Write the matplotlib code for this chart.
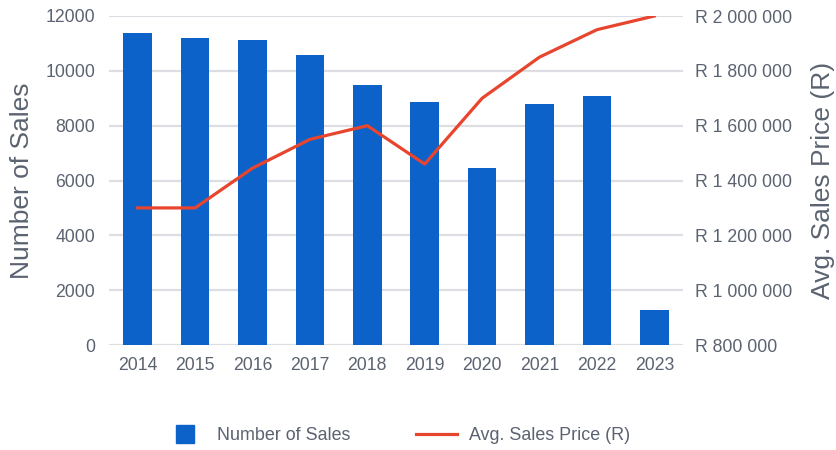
import matplotlib
matplotlib.use("Agg")
import matplotlib.pyplot as plt
from matplotlib.lines import Line2D
from matplotlib.ticker import FuncFormatter

years = ["2014", "2015", "2016", "2017", "2018", "2019", "2020", "2021", "2022", "2023"]
num_sales = [11380, 11200, 11120, 10580, 9480, 8860, 6460, 8790, 9080, 1280]
avg_price = [1300000, 1300000, 1445000, 1550000, 1600000, 1460000, 1700000, 1850000, 1950000, 2000000]

bar_color = "#0d62c9"
line_color = "#e8452f"
text_color = "#5b6371"
grid_color = "#dcdee3"

plt.rcParams["font.family"] = ["Liberation Sans", "DejaVu Sans"]

fig = plt.figure(figsize=(8.36, 4.5), dpi=100)
ax = fig.add_axes([109 / 836, 105 / 450, 574 / 836, 329 / 450])
ax2 = ax.twinx()

x = range(len(years))
ax.bar(x, num_sales, width=0.5, color=bar_color, zorder=2)
ax2.plot(x, avg_price, color=line_color, linewidth=2.3, zorder=3)

ax.set_xlim(-0.5, len(years) - 0.5)
ax.set_ylim(0, 12000)
ax.set_yticks(range(0, 12001, 2000))
ax2.set_ylim(800000, 2000000)
ax2.set_yticks(range(800000, 2000001, 200000))
ax2.yaxis.set_major_formatter(FuncFormatter(lambda v, p: "R " + f"{int(v):,}".replace(",", " ")))

ax.set_xticks(list(x))
ax.set_xticklabels(years)

ax.set_axisbelow(True)
ax.grid(axis="y", color=grid_color, linewidth=1.6, zorder=0)
for a in (ax, ax2):
    for s in a.spines.values():
        s.set_visible(False)
    a.tick_params(length=0, labelsize=12.7, labelcolor=text_color)
ax.tick_params(axis="y", pad=10)
ax.tick_params(axis="x", pad=9)
ax2.tick_params(axis="y", pad=8.5)

ax.set_ylabel("Number of Sales", fontsize=19, color=text_color)
ax.yaxis.set_label_coords((34 - 109) / 574, 0.5)
ax2.set_ylabel("Avg. Sales Price (R)", fontsize=19, color=text_color, rotation=90)
ax2.yaxis.set_label_coords((811 - 109) / 574, 0.5)

handles = [
    Line2D([], [], linestyle="none", marker="s", markersize=12.5, color=bar_color),
    Line2D([], [], color=line_color, linewidth=2.3),
]
fig.legend(handles, ["Number of Sales", "Avg. Sales Price (R)"], loc="center",
           bbox_to_anchor=(397 / 836, 1 - 436 / 450), ncol=2,
           frameon=False, fontsize=12.9, labelcolor=text_color, handlelength=2.3,
           handletextpad=0.63, columnspacing=3.7)

fig.savefig("out.png", dpi=100)
